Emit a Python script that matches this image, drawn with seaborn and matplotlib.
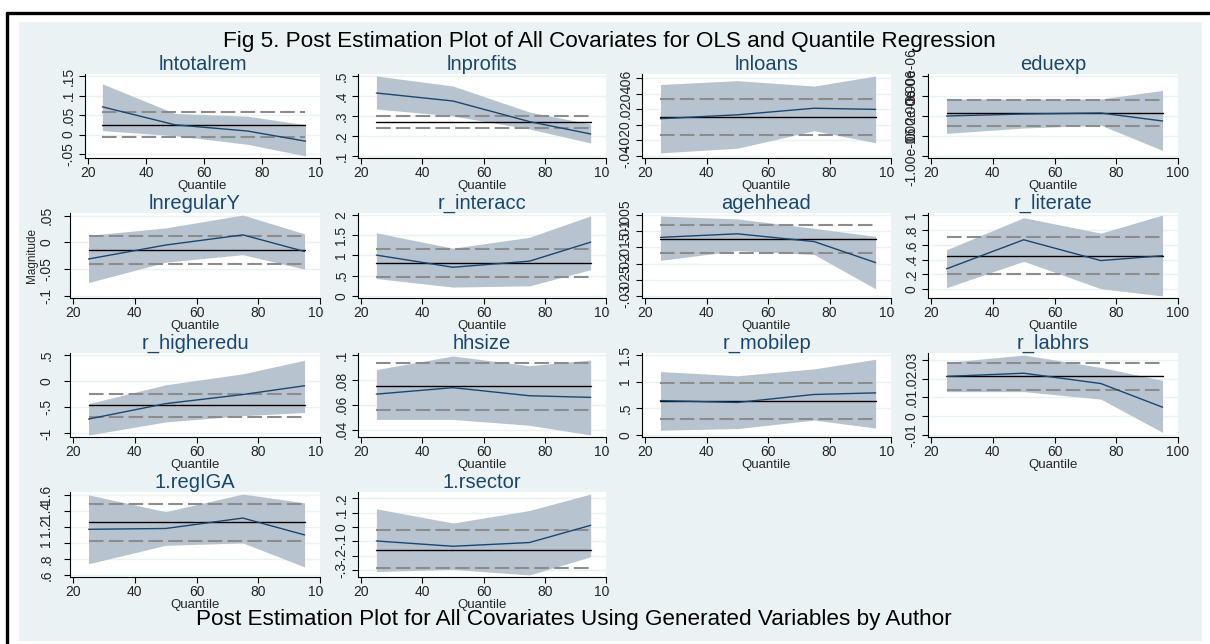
import matplotlib
matplotlib.use("Agg")
import matplotlib.pyplot as plt
import seaborn as sns
import pandas as pd
from matplotlib.patches import Rectangle
from matplotlib.lines import Line2D
from matplotlib.transforms import Bbox

# ---------------- data ----------------
quantiles = [25, 50, 75, 95]
variables = ["lntotalrem", "lnprofits", "lnloans", "eduexp",
             "lnregularY", "r_interacc", "agehhead", "r_literate",
             "r_higheredu", "hhsize", "r_mobilep", "r_labhrs",
             "1.regIGA", "1.rsector"]

qr_coef = [
    [0.071, 0.025, 0.009, -0.017],
    [0.415, 0.375, 0.272, 0.210],
    [0.008, 0.013, 0.0215, 0.020],
    [1.0e-6, 1.1e-6, 1.15e-6, 0.75e-6],
    [-0.031, -0.005, 0.014, -0.017],
    [1.01, 0.71, 0.86, 1.33],
    [-0.0119, -0.0108, -0.0132, -0.0197],
    [0.276, 0.667, 0.387, 0.453],
    [-0.725, -0.43, -0.256, -0.088],
    [0.0686, 0.0738, 0.0673, 0.066],
    [0.645, 0.61, 0.76, 0.79],
    [0.0212, 0.0229, 0.0174, 0.0048],
    [1.17, 1.18, 1.31, 1.10],
    [-0.097, -0.134, -0.108, 0.012],
]
qr_lower = [
    [0.010, -0.003, -0.025, -0.055],
    [0.335, 0.300, 0.235, 0.165],
    [-0.036, -0.030, -0.0075, -0.023],
    [0.13e-6, 0.4e-6, 0.54e-6, -0.72e-6],
    [-0.075, -0.037, -0.023, -0.050],
    [0.43, 0.22, 0.25, 0.65],
    [-0.019, -0.016, -0.0172, -0.0278],
    [0.022, 0.378, 0.009, -0.089],
    [-1.03, -0.78, -0.66, -0.60],
    [0.0483, 0.0483, 0.0436, 0.0358],
    [0.09, 0.12, 0.28, 0.13],
    [0.0131, 0.0131, 0.0091, -0.0086],
    [0.74, 0.97, 1.0, 0.70],
    [-0.31, -0.295, -0.334, -0.207],
]
qr_upper = [
    [0.130, 0.054, 0.047, 0.025],
    [0.50, 0.45, 0.32, 0.26],
    [0.052, 0.057, 0.050, 0.063],
    [1.85e-6, 1.85e-6, 1.85e-6, 2.28e-6],
    [0.013, 0.027, 0.051, 0.016],
    [1.56, 1.18, 1.45, 1.98],
    [-0.0053, -0.0062, -0.0091, -0.0116],
    [0.533, 0.964, 0.756, 1.0],
    [-0.43, -0.07, 0.14, 0.40],
    [0.0883, 0.0992, 0.0914, 0.096],
    [1.19, 1.11, 1.24, 1.42],
    [0.0286, 0.0326, 0.026, 0.0191],
    [1.60, 1.39, 1.61, 1.50],
    [0.127, 0.028, 0.115, 0.23],
]
ols_coef = [0.025, 0.27, 0.010, 1.15e-6, -0.015, 0.82, -0.01235, 0.453,
            -0.46, 0.0748, 0.645, 0.0212, 1.26, -0.157]
ols_lower = [-0.007, 0.24, -0.013, 0.5e-6, -0.040, 0.46, -0.0167, 0.209,
             -0.69, 0.056, 0.30, 0.0140, 1.03, -0.288]
ols_upper = [0.059, 0.30, 0.033, 1.8e-6, 0.011, 1.17, -0.008, 0.698,
             -0.24, 0.0935, 0.976, 0.0281, 1.48, -0.023]

y_ticks = [
    [-0.05, 0, 0.05, 0.1, 0.15],
    [0.1, 0.2, 0.3, 0.4, 0.5],
    [-0.04, -0.02, 0, 0.02, 0.04, 0.06],
    [-1e-6, 0, 1e-6, 2e-6, 3e-6],
    [-0.1, -0.05, 0, 0.05],
    [0, 0.5, 1, 1.5, 2],
    [-0.03, -0.025, -0.02, -0.015, -0.01, -0.005],
    [0, 0.2, 0.4, 0.6, 0.8, 1],
    [-1, -0.5, 0, 0.5],
    [0.04, 0.06, 0.08, 0.1],
    [0, 0.5, 1, 1.5],
    [-0.01, 0, 0.01, 0.02, 0.03],
    [0.6, 0.8, 1, 1.2, 1.4, 1.6],
    [-0.3, -0.2, -0.1, 0, 0.1, 0.2],
]
y_tick_labels = [
    ["-.05", "0", ".05", ".1", ".15"],
    [".1", ".2", ".3", ".4", ".5"],
    ["-.04", "-.02", "0", ".02", ".04", ".06"],
    ["-1.00e-06", "0", "1.00e-06", "2.00e-06", "3.00e-06"],
    ["-.1", "-.05", "0", ".05"],
    ["0", ".5", "1", "1.5", "2"],
    ["-.03", "-.025", "-.02", "-.015", "-.01", "-.005"],
    ["0", ".2", ".4", ".6", ".8", "1"],
    ["-1", "-.5", "0", ".5"],
    [".04", ".06", ".08", ".1"],
    ["0", ".5", "1", "1.5"],
    ["-.01", "0", ".01", ".02", ".03"],
    [".6", ".8", "1", "1.2", "1.4", "1.6"],
    ["-.3", "-.2", "-.1", "0", ".1", ".2"],
]
x_ticks = [20, 40, 60, 80, 100]
x_tick_labels = ["20", "40", "60", "80", "100"]

main_title = "Fig 5. Post Estimation Plot of All Covariates for OLS and Quantile Regression"
caption = "Post Estimation Plot for All Covariates Using Generated Variables by Author"
x_title = "Quantile"
y_title = "Magnitude"

# ---------------- style ----------------
sns.set_style("white")
plt.rcParams["font.family"] = ["Liberation Sans", "DejaVu Sans"]

W, H = 1210, 644
BG = "#EAF2F3"
BAND = "#B7C4D0"
NAVY = "#1A476F"
DASH = "#8C8C8C"

fig = plt.figure(figsize=(W / 100, H / 100), dpi=100, facecolor="white")

# outer frame and graph region
fig.add_artist(Rectangle((19 / W, 1 - 641 / H), (1202 - 19) / W, (641 - 22) / H,
                         transform=fig.transFigure, facecolor=BG, edgecolor="none", zorder=0))
fig.add_artist(Line2D([7 / W, 1.01], [1 - 13 / H] * 2, transform=fig.transFigure,
                      color="black", lw=2.4, zorder=1))
fig.add_artist(Line2D([7 / W] * 2, [-0.01, 1 - 13 / H], transform=fig.transFigure,
                      color="black", lw=2.4, zorder=1))

col_left = [70, 358, 642, 928]
col_right = [320, 606, 891, 1178]
row_top = [74, 213, 353, 492]
row_bot = [158, 298, 437, 577]

axes_info = []
for i, name in enumerate(variables):
    r, c = divmod(i, 4)
    left = 85 if (r == 0 and c == 0) else col_left[c]
    right = col_right[c]
    top, bot = row_top[r], row_bot[r]
    ax = fig.add_axes([left / W, 1 - bot / H, (right - left) / W, (bot - top) / H])
    ax.set_facecolor("white")
    ax.set_axisbelow(True)

    ax.fill_between(quantiles, qr_lower[i], qr_upper[i], color=BAND, lw=0, zorder=1)
    df = pd.DataFrame({"q": quantiles, "coef": qr_coef[i],
                       "ols": [ols_coef[i]] * len(quantiles),
                       "olo": [ols_lower[i]] * len(quantiles),
                       "ohi": [ols_upper[i]] * len(quantiles)})
    sns.lineplot(data=df, x="q", y="ohi", ax=ax, color=DASH, lw=1.5, zorder=2)
    ax.lines[-1].set_dashes((7, 2.5))
    sns.lineplot(data=df, x="q", y="olo", ax=ax, color=DASH, lw=1.5, zorder=2)
    ax.lines[-1].set_dashes((7, 2.5))
    sns.lineplot(data=df, x="q", y="ols", ax=ax, color="black", lw=1.0, zorder=3)
    sns.lineplot(data=df, x="q", y="coef", ax=ax, color=NAVY, lw=1.0, zorder=4)

    ticks = y_ticks[i]
    lo = min(ticks[0], min(qr_lower[i]))
    hi = max(ticks[-1], max(qr_upper[i]))
    pad = 0.025 * (hi - lo)
    ax.set_ylim(lo - pad, hi + pad)
    ax.set_xlim(19, 100)
    ax.set_yticks(ticks)
    ax.set_yticklabels(y_tick_labels[i], rotation=90, va="center")
    ax.set_xticks(x_ticks)
    ax.set_xticklabels(x_tick_labels)
    ax.yaxis.grid(True, color=BG, lw=1.0)
    ax.xaxis.grid(False)
    for s in ["top", "right"]:
        ax.spines[s].set_visible(False)
    for s in ["left", "bottom"]:
        ax.spines[s].set_color("black")
        ax.spines[s].set_linewidth(0.8)
    ypad = 8 if (c == 0 and r > 0) else 3
    ax.tick_params(axis="y", direction="out", length=4, width=0.8, color="black",
                   labelsize=10, pad=ypad, left=True)
    ax.tick_params(axis="x", direction="out", length=4, width=0.8, color="black",
                   labelsize=10, pad=1.5, bottom=True)
    ax.set_xlabel(x_title, fontsize=9.5, labelpad=0)
    if i == 4:
        ax.set_ylabel(y_title, fontsize=8.5, labelpad=1)
    else:
        ax.set_ylabel("")
    ax.set_title(name, color=NAVY, fontsize=14.5, pad=3)
    axes_info.append((ax, c))

fig.text(609 / W, 1 - 42 / H, main_title, ha="center", va="center", fontsize=16.2, color="black")
fig.text(574 / W, 1 - 619 / H, caption, ha="center", va="center", fontsize=16.2, color="black")

# clip the "100" labels of the first three columns at the cell edge
fig.canvas.draw()
for ax, c in axes_info:
    if c < 3:
        lab = ax.get_xticklabels()[-1]
        x1 = ax.get_window_extent().x1 + 4
        lab.set_clip_box(Bbox.from_extents(0, 0, x1, fig.bbox.height))
        lab.set_clip_on(True)

fig.savefig("out.png", dpi=100, facecolor="white")
